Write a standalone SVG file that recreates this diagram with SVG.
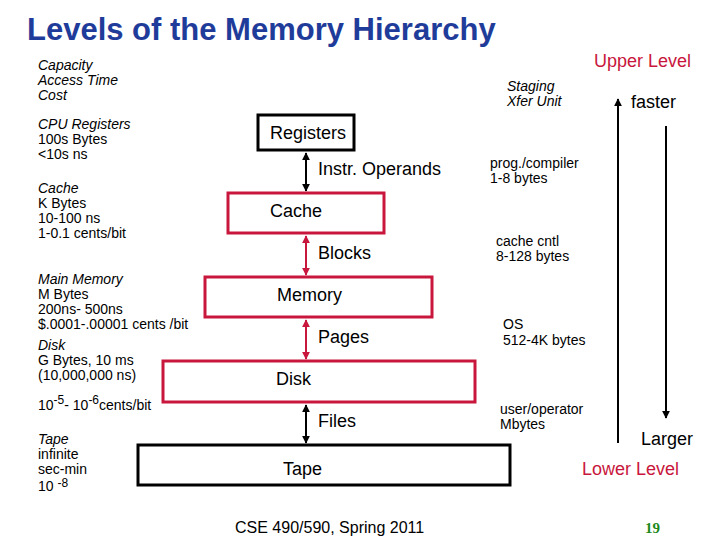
<svg xmlns="http://www.w3.org/2000/svg" width="720" height="540" viewBox="0 0 720 540">
<style>
  text { font-family: "Liberation Sans", Arial, sans-serif; fill: #000; }
  .title { font-size: 31px; font-weight: bold; fill: #1f3c9a; }
  .sm { font-size: 14px; }
  .it { font-style: italic; }
  .lbl { font-size: 18px; }
  .red { fill: #c8163c; }
  .box { fill: #fff; stroke-width: 3; }
  .rb { stroke: #c8163c; }
  .kb { stroke: #000; }
  .ln { stroke-width: 2; fill: none; }
  .sup { font-size: 12px; }
</style>
<defs>
  <marker id="ak" viewBox="0 0 10 10" refX="9" refY="5" markerWidth="4" markerHeight="4" orient="auto-start-reverse">
    <path d="M0,0 L10,5 L0,10 z" fill="#000"/>
  </marker>
  <marker id="ar" viewBox="0 0 10 10" refX="9" refY="5" markerWidth="4" markerHeight="4" orient="auto-start-reverse">
    <path d="M0,0 L10,5 L0,10 z" fill="#c8163c"/>
  </marker>
</defs>
<rect width="720" height="540" fill="#fff"/>
<text class="title" x="27" y="40">Levels of the Memory Hierarchy</text>

<g id="left-text" class="sm">
  <text class="sm it" x="38" y="70">Capacity</text>
  <text class="sm it" x="38" y="85">Access Time</text>
  <text class="sm it" x="38" y="100">Cost</text>
  <text class="sm it" x="38" y="129">CPU Registers</text>
  <text class="sm" x="38" y="144">100s Bytes</text>
  <text class="sm" x="38" y="159">&lt;10s ns</text>
  <text class="sm it" x="38" y="193">Cache</text>
  <text class="sm" x="38" y="208">K Bytes</text>
  <text class="sm" x="38" y="223">10-100 ns</text>
  <text class="sm" x="38" y="238">1-0.1 cents/bit</text>
  <text class="sm it" x="38" y="284">Main Memory</text>
  <text class="sm" x="38" y="299">M Bytes</text>
  <text class="sm" x="38" y="314">200ns- 500ns</text>
  <text class="sm" x="38" y="329">$.0001-.00001 cents /bit</text>
  <text class="sm it" x="38" y="350">Disk</text>
  <text class="sm" x="38" y="365">G Bytes, 10 ms</text>
  <text class="sm" x="38" y="380">(10,000,000 ns)</text>
  <text class="sm" x="38" y="410">10<tspan class="sup" dy="-6">-5</tspan><tspan dy="6">- 10</tspan><tspan class="sup" dy="-6">-6</tspan><tspan dy="6">cents/bit</tspan></text>
  <text class="sm it" x="38" y="444">Tape</text>
  <text class="sm" x="38" y="459">infinite</text>
  <text class="sm" x="38" y="474">sec-min</text>
  <text class="sm" x="38" y="491">10 <tspan class="sup" dy="-4">-8</tspan></text>
</g>

<g id="connectors">
  <line class="ln" stroke="#000" x1="306" y1="153" x2="306" y2="191" marker-start="url(#ak)" marker-end="url(#ak)"/>
  <line class="ln" stroke="#c8163c" x1="306" y1="236" x2="306" y2="275" marker-start="url(#ar)" marker-end="url(#ar)"/>
  <line class="ln" stroke="#c8163c" x1="306" y1="320" x2="306" y2="359" marker-start="url(#ar)" marker-end="url(#ar)"/>
  <line class="ln" stroke="#000" x1="306" y1="405" x2="306" y2="443" marker-start="url(#ak)" marker-end="url(#ak)"/>
  <text class="lbl" x="318" y="175">Instr. Operands</text>
  <text class="lbl" x="318" y="259">Blocks</text>
  <text class="lbl" x="318" y="343">Pages</text>
  <text class="lbl" x="318" y="427">Files</text>
</g>

<g id="registers">
  <rect class="box kb" x="258" y="115" width="96" height="35"/>
  <text class="lbl" x="270" y="139">Registers</text>
</g>
<g id="cache">
  <rect class="box rb" x="228" y="193" width="156" height="40"/>
  <text class="lbl" x="270" y="217">Cache</text>
</g>
<g id="memory">
  <rect class="box rb" x="205" y="277" width="227" height="40"/>
  <text class="lbl" x="277" y="301">Memory</text>
</g>
<g id="disk">
  <rect class="box rb" x="163" y="361" width="312" height="41"/>
  <text class="lbl" x="276" y="385">Disk</text>
</g>
<g id="tape">
  <rect class="box kb" x="138" y="445" width="372" height="40"/>
  <text class="lbl" x="283" y="475">Tape</text>
</g>

<g id="right-text">
  <text class="sm it" x="507" y="91">Staging</text>
  <text class="sm it" x="507" y="106">Xfer Unit</text>
  <text class="sm" x="490" y="168">prog./compiler</text>
  <text class="sm" x="490" y="183">1-8 bytes</text>
  <text class="sm" x="496" y="246">cache cntl</text>
  <text class="sm" x="496" y="261">8-128 bytes</text>
  <text class="sm" x="503" y="329">OS</text>
  <text class="sm" x="503" y="345">512-4K bytes</text>
  <text class="sm" x="500" y="414">user/operator</text>
  <text class="sm" x="500" y="429">Mbytes</text>
</g>

<g id="scale">
  <line class="ln" stroke="#000" x1="618" y1="443" x2="618" y2="99" marker-end="url(#ak)"/>
  <line class="ln" stroke="#000" x1="666" y1="126" x2="666" y2="418" marker-end="url(#ak)"/>
  <text class="lbl red" x="594" y="67">Upper Level</text>
  <text class="lbl" x="631" y="108">faster</text>
  <text class="lbl" x="641" y="445">Larger</text>
  <text class="lbl red" x="582" y="475">Lower Level</text>
</g>

<text x="235" y="533" style="font-size:16px">CSE 490/590, Spring 2011</text>
<text x="645" y="533" style="font-family:'Liberation Serif',serif;font-size:15px;font-weight:bold;fill:#1a8a1a">19</text>
</svg>
